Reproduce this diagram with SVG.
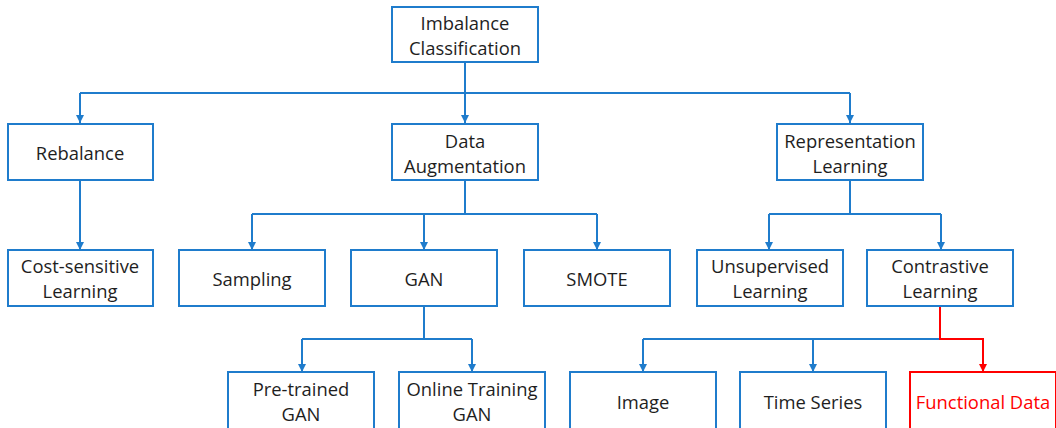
<svg xmlns="http://www.w3.org/2000/svg" width="1056" height="428" viewBox="0 0 1056 428">
<style>
.box{fill:#fff;stroke:#1f7ccc;stroke-width:2}
.red{fill:#fff;stroke:#ff0000;stroke-width:2}
text{font-family:"Open Sans","Noto Sans",sans-serif;font-size:18.4px;fill:#1e1e1e;text-anchor:middle;dominant-baseline:central}
.rt{fill:#ff0000}
.c{fill:none;stroke:#1f7ccc;stroke-width:2}
.cr{fill:none;stroke:#ff0000;stroke-width:2}
</style>
<defs>
<marker id="ab" viewBox="0 0 10 10" refX="10" refY="5" markerWidth="8" markerHeight="8" markerUnits="userSpaceOnUse" orient="auto"><path d="M0,0 L10,5 L0,10 z" fill="#1f7ccc"/></marker>
<marker id="ar" viewBox="0 0 10 10" refX="10" refY="5" markerWidth="8" markerHeight="8" markerUnits="userSpaceOnUse" orient="auto"><path d="M0,0 L10,5 L0,10 z" fill="#ff0000"/></marker>
</defs>
<rect width="1056" height="428" fill="#fff"/>
<g id="connectors">
<path class="c" d="M465,62 V93"/>
<path class="c" d="M80,93 H850"/>
<path class="c" d="M80,93 V123" marker-end="url(#ab)"/>
<path class="c" d="M465,93 V123" marker-end="url(#ab)"/>
<path class="c" d="M850,93 V123" marker-end="url(#ab)"/>
<path class="c" d="M80,180 V250" marker-end="url(#ab)"/>
<path class="c" d="M465,180 V214"/>
<path class="c" d="M252,214 H597"/>
<path class="c" d="M252,214 V250" marker-end="url(#ab)"/>
<path class="c" d="M424,214 V250" marker-end="url(#ab)"/>
<path class="c" d="M597,214 V250" marker-end="url(#ab)"/>
<path class="c" d="M850,180 V214"/>
<path class="c" d="M769,214 H941"/>
<path class="c" d="M769,214 V250" marker-end="url(#ab)"/>
<path class="c" d="M941,214 V250" marker-end="url(#ab)"/>
<path class="c" d="M424,306 V339"/>
<path class="c" d="M302,339 H472"/>
<path class="c" d="M302,339 V372" marker-end="url(#ab)"/>
<path class="c" d="M472,339 V372" marker-end="url(#ab)"/>
<path class="c" d="M643,339 H940"/>
<path class="c" d="M643,339 V372" marker-end="url(#ab)"/>
<path class="c" d="M813,339 V372" marker-end="url(#ab)"/>
<path class="cr" d="M940,306 V339 H983 V372" marker-end="url(#ar)"/>
</g>
<g id="n-imbalance"><rect class="box" x="392" y="7" width="146" height="55"/><text x="465" y="22">Imbalance</text><text x="465" y="47">Classification</text></g>
<g id="n-rebalance"><rect class="box" x="8" y="124" width="145" height="56"/><text x="80" y="152">Rebalance</text></g>
<g id="n-dataaug"><rect class="box" x="392" y="124" width="146" height="56"/><text x="465" y="140">Data</text><text x="465" y="165">Augmentation</text></g>
<g id="n-replearn"><rect class="box" x="777" y="124" width="146" height="56"/><text x="850" y="140">Representation</text><text x="850" y="165">Learning</text></g>
<g id="n-cost"><rect class="box" x="8" y="250" width="145" height="56"/><text x="80" y="265">Cost-sensitive</text><text x="80" y="290">Learning</text></g>
<g id="n-sampling"><rect class="box" x="179" y="250" width="146" height="56"/><text x="252" y="278">Sampling</text></g>
<g id="n-gan"><rect class="box" x="351" y="250" width="146" height="56"/><text x="424" y="278">GAN</text></g>
<g id="n-smote"><rect class="box" x="524" y="250" width="146" height="56"/><text x="597" y="278">SMOTE</text></g>
<g id="n-unsup"><rect class="box" x="697" y="250" width="146" height="56"/><text x="770" y="265">Unsupervised</text><text x="770" y="290">Learning</text></g>
<g id="n-contrast"><rect class="box" x="867" y="250" width="146" height="56"/><text x="940" y="265">Contrastive</text><text x="940" y="290">Learning</text></g>
<g id="n-pretrained"><rect class="box" x="228" y="372" width="146" height="60"/><text x="301" y="388">Pre-trained</text><text x="301" y="413">GAN</text></g>
<g id="n-online"><rect class="box" x="399" y="372" width="146" height="60"/><text x="472" y="388">Online Training</text><text x="472" y="413">GAN</text></g>
<g id="n-image"><rect class="box" x="570" y="372" width="146" height="60"/><text x="643" y="401">Image</text></g>
<g id="n-timeseries"><rect class="box" x="740" y="372" width="146" height="60"/><text x="813" y="401">Time Series</text></g>
<g id="n-functional"><rect class="red" x="910" y="372" width="146" height="60"/><text class="rt" x="983" y="401">Functional Data</text></g>
</svg>
